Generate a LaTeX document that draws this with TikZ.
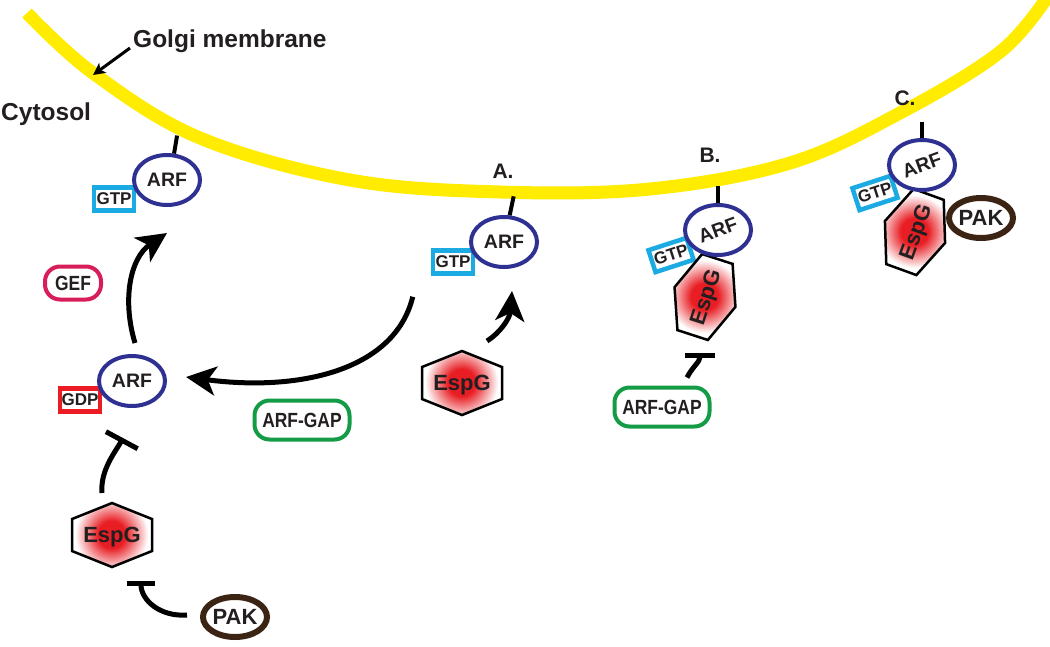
\documentclass[tikz,border=0pt]{standalone}
\usepackage{fontspec}
\setmainfont{Liberation Sans}
\usepackage{graphicx}
\usetikzlibrary{shapes.geometric,arrows.meta,calc}
\definecolor{memb}{RGB}{255,236,0}
\definecolor{arfblue}{RGB}{46,49,146}
\definecolor{gtpcyan}{RGB}{28,170,226}
\definecolor{gdpred}{RGB}{237,28,36}
\definecolor{gefpink}{RGB}{216,30,90}
\definecolor{gapgreen}{RGB}{20,155,70}
\definecolor{pakbrown}{RGB}{60,36,21}
\definecolor{espgred}{RGB}{232,30,36}
\definecolor{ink}{RGB}{35,31,32}
\newcommand{\espghex}[3]{%
  \begin{scope}[shift={#2}, rotate=#3]
    \fill[white] (0,-32) -- (40,-16) -- (40,16) -- (0,32) -- (-40,16) -- (-40,-16) -- cycle;
    \begin{scope}
      \clip (0,-32) -- (40,-16) -- (40,16) -- (0,32) -- (-40,16) -- (-40,-16) -- cycle;
      \foreach \i in {0,...,30}{
        \pgfmathsetmacro{\rr}{39-\i}
        \pgfmathsetmacro{\pp}{min(100,max(0,100*(37-\rr)/23))}
        \fill[espgred!\pp!white] (0,0) circle (\rr);
      }
    \end{scope}
    \draw[hexline] (0,-32) -- (40,-16) -- (40,16) -- (0,32) -- (-40,16) -- (-40,-16) -- cycle;
  \end{scope}
  \node[espgtext, rotate=#3] (#1) at #2 {EspG};}
\begin{document}
\begin{tikzpicture}[x=1pt,y=-1pt,
  lab/.style={inner sep=0pt, text=ink, font=\fontsize{24.5}{24.5}\selectfont\bfseries},
  letter/.style={inner sep=0pt, text=ink, font=\fontsize{21}{21}\selectfont\bfseries},
  arf/.style={ellipse, draw=arfblue, fill=white, line width=4pt, minimum width=66pt, minimum height=50pt, inner sep=0pt, text=ink, font=\fontsize{19.5}{19.5}\selectfont\bfseries},
  nucl/.style={rectangle, fill=white, line width=4.5pt, minimum width=40pt, minimum height=23pt, inner sep=0pt, text=ink, font=\fontsize{17}{17}\selectfont\bfseries},
  gtp/.style={nucl, draw=gtpcyan},
  gdp/.style={nucl, draw=gdpred},
  pill/.style={rectangle, rounded corners=15pt, fill=white, line width=4pt, inner sep=0pt, text=ink, font=\fontsize{20.5}{20.5}\selectfont\bfseries},
  gef/.style={pill, draw=gefpink, minimum width=56pt, minimum height=33pt},
  gap/.style={pill, draw=gapgreen, minimum width=95pt, minimum height=39pt},
  pak/.style={ellipse, draw=pakbrown, fill=white, line width=6pt, minimum width=64pt, minimum height=40pt, inner sep=0pt, text=ink, font=\fontsize{22}{22}\selectfont\bfseries},
  espgtext/.style={inner sep=0pt, text depth=0pt, text=ink, font=\fontsize{22}{22}\selectfont\bfseries},
  hexline/.style={draw=black, line width=2.5pt, line join=miter},
  act/.style={line width=5pt, -{Stealth[length=30pt,width=29pt,inset=8pt]}},
  inh/.style={line width=5pt, -{Bar[width=32pt]}},
  stalk/.style={line width=4pt, draw=black},
  membrane/.style={line width=13pt, draw=memb},
]
\fill[white] (0,0) rectangle (1050,646);
\useasboundingbox (0,0) rectangle (1050,646);

% membrane
\draw[membrane] plot[smooth, tension=0.6] coordinates {(27,13) (93,73) (200,138) (350,180) (500,192) (650,189) (790,163) (900,113) (1000,52) (1048,-4)};

% labels
\node[lab, anchor=base west] (golgi) at (133,47) {Golgi membrane};
\node[lab, anchor=base west] (cyto) at (1,120) {Cytosol};
\node[letter, anchor=base] (labA) at (503,178) {A.};
\node[letter, anchor=base] (labB) at (710,162) {B.};
\node[letter, anchor=base] (labC) at (905,105) {C.};
\coordinate (membpt) at (93,75);
\draw[line width=3pt, -{Stealth[length=12pt,width=12pt,inset=3pt]}] ($(golgi.base west)+(-3,1)$) -- (membpt);

% nucleotide boxes
\node[gtp] (gtp1) at (114,199) {GTP};
\node[gtp] (gtpA) at (453,262) {GTP};
\node[gdp] (gdpL) at (80,400) {GDP};
\node[gtp, rotate=18] (gtpB) at (671,255) {GTP};
\node[gtp, rotate=18] (gtpC) at (875,193) {GTP};

% EspG hexagons
\espghex{hexL}{(112,535)}{0}
\espghex{hexA}{(462,383)}{0}
\espghex{hexB}{(705,297)}{72}
\espghex{hexC}{(915,232)}{70}

% ARF
\node[arf] (arf1) at (167,180) {ARF};
\node[arf] (arfA) at (504,242) {ARF};
\node[arf] (arfL) at (132,381) {ARF};
\node[arf] (arfB) at (718,230) {\rotatebox{20}{ARF}};
\node[arf] (arfC) at (922,165) {\rotatebox{20}{ARF}};

% stalks
\draw[stalk] (arf1.75) -- ++(3,-18);
\draw[stalk] (arfA.78) -- ++(4,-19);
\draw[stalk] (arfB.north) -- ++(0,-17);
\draw[stalk] (arfC.north) -- ++(0,-16);

% others
\node[gef] (gef) at (73,283) {\scalebox{0.85}[1]{GEF}};
\node[gap] (gapL) at (302,420) {\scalebox{0.85}[1]{ARF-GAP}};
\node[gap] (gapB) at (662,407) {\scalebox{0.85}[1]{ARF-GAP}};
\node[pak] (pakL) at (235,617) {PAK};
\node[pak] (pakC) at (981,218) {PAK};

% connectors
\draw[act] ($(arfL.north)+(3,-11)$) .. controls (122,300) and (130,258) .. ($(arf1.south)+(0,26)$);
\draw[act] ($(gtpA.south west)+(-18,21)$) .. controls (395,370) and (300,392) .. ($(arfL.east)+(19,-4)$);
\draw[act] ($(hexA)+(25,-42)$) .. controls (500,333) and (510,318) .. ($(arfA.south)+(8,22)$);
\draw[inh, -{Bar[width=36pt]}] ($(hexL)+(-10,-42)$) .. controls (100,470) and (116,451) .. ($(arfL.south)+(-9,30)$);
\draw[inh, -{Bar[width=28pt]}] ($(pakL.west)+(-13,-2)$) .. controls (160,617) and (141,600) .. ($(hexL)+(29,46)$);
\draw[inh, -{Bar[width=30pt]}] ($(gapB.north)+(25,-8)$) .. controls (693,366) and (700,362) .. ($(hexB)+(-5,56)$);
\end{tikzpicture}
\end{document}
